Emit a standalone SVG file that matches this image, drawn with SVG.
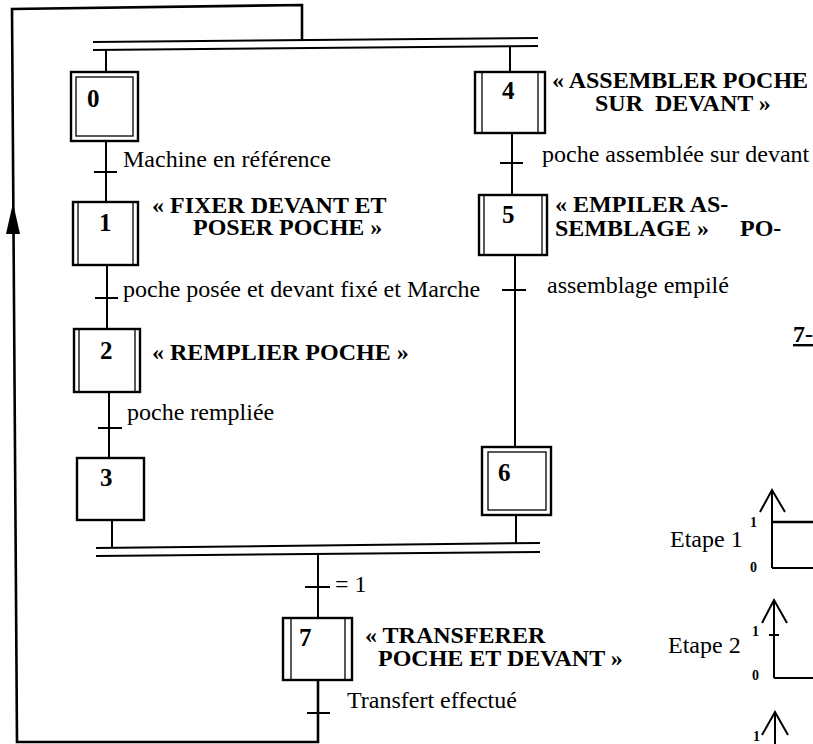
<svg xmlns="http://www.w3.org/2000/svg" width="813" height="744" viewBox="0 0 813 744">
<style>
.ln{stroke:#000;stroke-width:2;fill:none}
.thk{stroke:#000;stroke-width:2.6;fill:none}
.box{fill:#fff;stroke:#000;stroke-width:2.4}
.in{fill:none;stroke:#000;stroke-width:1.3}
.t{font-family:"Liberation Serif","Times New Roman",serif;font-size:24px;fill:#000}
.b{font-weight:bold}
.n{font-family:"Liberation Serif","Times New Roman",serif;font-size:25px;font-weight:bold;fill:#000}
.s{font-family:"Liberation Serif","Times New Roman",serif;font-size:14px;font-weight:bold;fill:#000}
</style>
<rect width="813" height="744" fill="#fff"/>
<g id="connectors">
  <polyline class="thk" points="318,680 318,742 17,742 12,9 302,5 302,40"/>
  <polygon points="13,203 6,234 20,234" fill="#000"/>
  <line class="ln" x1="93" y1="42" x2="538" y2="38"/>
  <line class="ln" x1="93" y1="50" x2="538" y2="46"/>
  <line class="ln" x1="96" y1="548" x2="540" y2="543"/>
  <line class="ln" x1="96" y1="556" x2="540" y2="552"/>
  <line class="ln" x1="106" y1="50" x2="106" y2="72"/>
  <line class="ln" x1="106" y1="141" x2="106" y2="202"/>
  <line class="ln" x1="94" y1="172" x2="117" y2="172"/>
  <line class="ln" x1="107" y1="265" x2="107" y2="329"/>
  <line class="ln" x1="95" y1="298" x2="118" y2="298"/>
  <line class="ln" x1="109" y1="392" x2="109" y2="458"/>
  <line class="ln" x1="98" y1="428" x2="122" y2="428"/>
  <line class="ln" x1="112" y1="520" x2="112" y2="548"/>
  <line class="ln" x1="510" y1="46" x2="510" y2="72"/>
  <line class="ln" x1="512" y1="133" x2="512" y2="195"/>
  <line class="ln" x1="500" y1="163" x2="523" y2="163"/>
  <line class="ln" x1="515" y1="255" x2="515" y2="447"/>
  <line class="ln" x1="502" y1="290" x2="526" y2="290"/>
  <line class="ln" x1="516" y1="515" x2="516" y2="543"/>
  <line class="ln" x1="318" y1="554" x2="318" y2="618"/>
  <line class="ln" x1="305" y1="587" x2="330" y2="587"/>
  <line class="ln" x1="307" y1="713" x2="330" y2="713"/>
</g>
<g id="step0">
  <rect class="box" x="71" y="72" width="67" height="69"/>
  <rect class="in" x="76" y="77" width="57" height="59"/>
  <text class="n" x="87" y="107">0</text>
</g>
<g id="step1">
  <rect class="box" x="73" y="202" width="65" height="63"/>
  <line class="in" x1="78" y1="202" x2="78" y2="265"/>
  <line class="in" x1="133" y1="202" x2="133" y2="265"/>
  <text class="n" x="99" y="231">1</text>
</g>
<g id="step2">
  <rect class="box" x="74" y="329" width="66" height="63"/>
  <line class="in" x1="79" y1="329" x2="79" y2="392"/>
  <line class="in" x1="135" y1="329" x2="135" y2="392"/>
  <text class="n" x="100" y="359">2</text>
</g>
<g id="step3">
  <rect class="box" x="77" y="458" width="67" height="62"/>
  <text class="n" x="100" y="486">3</text>
</g>
<g id="step4">
  <rect class="box" x="475" y="72" width="70" height="61"/>
  <line class="in" x1="482" y1="72" x2="482" y2="133"/>
  <line class="in" x1="538" y1="72" x2="538" y2="133"/>
  <text class="n" x="502" y="99">4</text>
</g>
<g id="step5">
  <rect class="box" x="479" y="195" width="68" height="60"/>
  <line class="in" x1="484" y1="195" x2="484" y2="255"/>
  <line class="in" x1="542" y1="195" x2="542" y2="255"/>
  <text class="n" x="502" y="223">5</text>
</g>
<g id="step6">
  <rect class="box" x="482" y="447" width="69" height="68"/>
  <rect class="in" x="488" y="452" width="58" height="58"/>
  <text class="n" x="498" y="481">6</text>
</g>
<g id="step7">
  <rect class="box" x="283" y="618" width="69" height="62"/>
  <line class="in" x1="291" y1="618" x2="291" y2="680"/>
  <line class="in" x1="345" y1="618" x2="345" y2="680"/>
  <text class="n" x="299" y="646">7</text>
</g>
<g id="labels">
  <text class="t" x="123" y="167">Machine en référence</text>
  <text class="t b" x="152" y="213">« FIXER DEVANT ET</text>
  <text class="t b" x="193" y="235">POSER POCHE »</text>
  <text class="t" x="123" y="297">poche posée et devant fixé et Marche</text>
  <text class="t b" x="152" y="360">« REMPLIER POCHE »</text>
  <text class="t" x="127" y="420">poche rempliée</text>
  <text class="t b" x="552" y="88">« ASSEMBLER POCHE</text>
  <text class="t b" x="595" y="111" xml:space="preserve">SUR  DEVANT »</text>
  <text class="t" x="542" y="162">poche assemblée sur devant</text>
  <text class="t b" x="555" y="212">« EMPILER AS-</text>
  <text class="t b" x="555" y="236">SEMBLAGE »<tspan x="740">PO-</tspan></text>
  <text class="t" x="547" y="293">assemblage empilé</text>
  <text class="t b" x="793" y="342" text-decoration="underline">7-</text>
  <text class="t" x="335" y="592">= 1</text>
  <text class="t b" x="365" y="643">« TRANSFERER</text>
  <text class="t b" x="378" y="666">POCHE ET DEVANT »</text>
  <text class="t" x="347" y="708">Transfert effectué</text>
</g>
<g id="chart1">
  <text class="t" x="670" y="547">Etape 1</text>
  <text class="s" x="750" y="527">1</text>
  <text class="s" x="750" y="572">0</text>
  <line class="ln" x1="772" y1="491" x2="772" y2="568"/>
  <polyline class="ln" points="760,512 772,490 785,512"/>
  <line class="ln" x1="772" y1="568" x2="813" y2="568"/>
  <line class="thk" x1="772" y1="522" x2="813" y2="522"/>
</g>
<g id="chart2">
  <text class="t" x="668" y="653">Etape 2</text>
  <text class="s" x="752" y="636">1</text>
  <text class="s" x="752" y="680">0</text>
  <line class="ln" x1="774" y1="601" x2="774" y2="678"/>
  <polyline class="ln" points="762,623 774,600 787,623"/>
  <line class="ln" x1="769" y1="635" x2="779" y2="635"/>
  <line class="ln" x1="774" y1="678" x2="813" y2="678"/>
</g>
<g id="chart3">
  <text class="s" x="753" y="741">1</text>
  <line class="ln" x1="775" y1="713" x2="775" y2="744"/>
  <polyline class="ln" points="762,735 775,712 788,735"/>
</g>
</svg>
